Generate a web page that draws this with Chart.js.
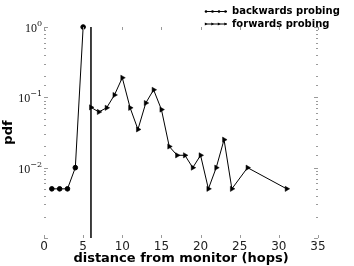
<!DOCTYPE html>
<html>
<head>
<meta charset="utf-8">
<script src="https://cdn.jsdelivr.net/npm/chart.js@4/dist/chart.umd.min.js"></script>
<style>
  html, body { margin: 0; padding: 0; background: #fff; }
  #wrap { width: 354px; height: 266px; }
</style>
</head>
<body>
<div id="wrap"><canvas id="pdfChart" width="354" height="266"></canvas></div>
<script>
// values
const hopsBackwards = [1, 2, 3, 4, 5];
const pdfBackwards = [0.005, 0.005, 0.005, 0.01, 1.0];

const hopsForwards = [6, 7, 8, 9, 10, 11, 12, 13, 14, 15, 16, 17, 18, 19, 20, 21, 22, 23, 24, 26, 31];
const pdfForwards = [0.072, 0.062, 0.071, 0.108, 0.19, 0.071, 0.035, 0.083, 0.128, 0.067,
                     0.02, 0.015, 0.015, 0.01, 0.015, 0.005, 0.01, 0.025, 0.005, 0.01, 0.005];

// monitor position (vertical line)
const monitorHop = [6, 6];
const monitorPdf = [0.001, 1];

const yLabelValues = [1, 0.1, 0.01];
const yLabelExponents = ['0', '\u22121', '\u22122'];
const legendLabels = ['backwards probing', 'forwards probing'];

function toPoints(xs, ys) {
    return xs.map((x, i) => ({ x: x, y: ys[i] }));
}

// inward ticks on all four sides, mathtext-like y labels, legend
const decorPlugin = {
    id: 'decor',
    afterDraw(chart) {
        const ctx = chart.ctx;
        const area = chart.chartArea;
        const xs = chart.scales.x;
        const ys = chart.scales.y;
        ctx.save();
        ctx.strokeStyle = '#9a9a9a';
        ctx.lineWidth = 1;

        // y ticks (left and right)
        ys.ticks.forEach(t => {
            const py = Math.round(ys.getPixelForValue(t.value)) + 0.5;
            const len = t.major ? 4 : 2;
            ctx.beginPath();
            ctx.moveTo(area.left, py);
            ctx.lineTo(area.left + len, py);
            ctx.moveTo(area.right, py);
            ctx.lineTo(area.right - len, py);
            ctx.stroke();
        });

        // x ticks (top and bottom)
        xs.ticks.forEach(t => {
            const px = Math.round(xs.getPixelForValue(t.value)) + 0.5;
            ctx.beginPath();
            ctx.moveTo(px, area.top);
            ctx.lineTo(px, area.top + 3);
            ctx.moveTo(px, area.bottom);
            ctx.lineTo(px, area.bottom - 3);
            ctx.stroke();
        });

        // y labels 10^n
        ctx.fillStyle = '#111';
        ctx.textBaseline = 'middle';
        yLabelValues.forEach((v, i) => {
            const py = ys.getPixelForValue(v);
            ctx.font = '8px "DejaVu Serif", serif';
            const expW = ctx.measureText(yLabelExponents[i]).width;
            const right = area.left - 2;
            ctx.textAlign = 'left';
            ctx.fillText(yLabelExponents[i], right - expW, py - 3);
            ctx.font = '12px "Liberation Serif", serif';
            ctx.textAlign = 'right';
            ctx.fillText('10', right - expW, py + 2);
        });

        // legend
        ctx.strokeStyle = '#000';
        ctx.fillStyle = '#000';
        legendLabels.forEach((label, i) => {
            const ly = 11.5 + 12.5 * i;
            ctx.beginPath();
            ctx.moveTo(205, ly);
            ctx.lineTo(227, ly);
            ctx.stroke();
            for (let k = 0; k < 4; k++) {
                const mx = 206 + k * 6.5;
                ctx.beginPath();
                if (i === 0) {
                    ctx.arc(mx, ly, 1.3, 0, Math.PI * 2);
                } else {
                    ctx.moveTo(mx + 1.6, ly);
                    ctx.lineTo(mx - 1.2, ly - 1.5);
                    ctx.lineTo(mx - 1.2, ly + 1.5);
                    ctx.closePath();
                }
                ctx.fill();
            }
            ctx.font = 'bold 10px "DejaVu Sans", sans-serif';
            ctx.textAlign = 'left';
            ctx.textBaseline = 'middle';
            ctx.fillText(label, 232, ly);
        });
        ctx.restore();
    }
};

let chart;

function initChart() {
    const ctx = document.getElementById('pdfChart').getContext('2d');
    chart = new Chart(ctx, {
        type: 'scatter',
        data: {
            datasets: [
                {
                    label: 'monitor',
                    data: toPoints(monitorHop, monitorPdf),
                    showLine: true,
                    borderColor: '#000',
                    borderWidth: 1.5,
                    pointRadius: 0,
                    clip: false
                },
                {
                    label: legendLabels[0],
                    data: toPoints(hopsBackwards, pdfBackwards),
                    showLine: true,
                    borderColor: '#000',
                    backgroundColor: '#000',
                    borderWidth: 1,
                    pointStyle: 'circle',
                    pointRadius: 2.3,
                    clip: false
                },
                {
                    label: legendLabels[1],
                    data: toPoints(hopsForwards, pdfForwards),
                    showLine: true,
                    borderColor: '#000',
                    backgroundColor: '#000',
                    borderWidth: 1,
                    pointStyle: 'triangle',
                    rotation: 90,
                    pointRadius: 3,
                    pointBorderWidth: 0.5,
                    clip: false
                }
            ]
        },
        options: {
            responsive: false,
            animation: false,
            devicePixelRatio: 1,
            layout: { padding: { top: 27, right: 36, bottom: 0, left: 0 } },
            plugins: {
                legend: { display: false },
                tooltip: { enabled: false }
            },
            scales: {
                x: {
                    type: 'linear',
                    min: 0,
                    max: 35,
                    grid: { display: false, drawTicks: false },
                    border: { display: false },
                    ticks: {
                        stepSize: 5,
                        padding: 2,
                        color: '#222',
                        font: { family: 'DejaVu Sans', size: 12 },
                        maxRotation: 0
                    },
                    title: {
                        display: true,
                        text: 'distance from monitor (hops)',
                        color: '#000',
                        font: { family: 'DejaVu Sans', size: 13, weight: 'bold' },
                        padding: { top: 0, bottom: 0 }
                    },
                    afterFit: s => { s.height = 28; }
                },
                y: {
                    type: 'logarithmic',
                    min: 0.001,
                    max: 1,
                    grid: { display: false, drawTicks: false },
                    border: { display: false },
                    ticks: { display: false },
                    title: {
                        display: true,
                        text: 'pdf',
                        color: '#000',
                        font: { family: 'DejaVu Sans', size: 13, weight: 'bold' },
                        padding: { top: 1, bottom: 0 }
                    },
                    afterFit: s => { s.width = 44; }
                }
            }
        },
        plugins: [decorPlugin]
    });
}

window.onload = initChart;
</script>
</body>
</html>
